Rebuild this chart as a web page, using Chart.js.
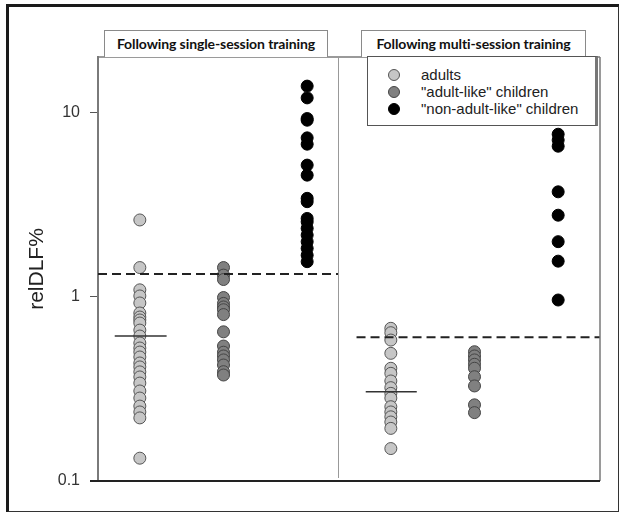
<!DOCTYPE html>
<html>
<head>
<meta charset="utf-8">
<title>relDLF%</title>
<script src="https://cdn.jsdelivr.net/npm/chart.js@4.4.1/dist/chart.umd.min.js"></script>
<style>
    body { margin: 0; background: #fff; overflow: hidden; }
    .wrap { position: relative; width: 619px; height: 512px; }
    .frame {
        position: absolute; left: 6px; top: 4px; width: 609px; height: 504px;
        border-left: 3px solid #1a1a1a; border-top: 3px solid #1a1a1a;
        border-right: 2px solid #333; border-bottom: 2px solid #333;
    }
    canvas { position: absolute; left: 0; top: 0; }
    .strip {
        position: absolute; top: 30px; height: 27px; box-sizing: border-box;
        border: 1px solid #8a8a8a; border-bottom: none; background: #fff;
        font: bold 14px Lato, "Open Sans", sans-serif; color: #111;
        line-height: 26px; text-align: center; white-space: nowrap; letter-spacing: -0.1px;
    }
    .legend {
        position: absolute; left: 367px; top: 56px; width: 231px; height: 70px;
        box-sizing: border-box; border: 1px solid #555; border-right: 3px solid #777;
        background: #fff; font: 15px "Liberation Sans", Arial, sans-serif; color: #222;
    }
    .legend .row { position: absolute; left: 0; height: 17px; line-height: 17px; white-space: nowrap; }
    .legend .dot {
        position: absolute; left: 20px; top: 3px; width: 12px; height: 12px;
        border-radius: 50%; box-sizing: border-box; border: 1px solid #444;
    }
    .legend .txt { position: absolute; left: 53px; top: 0; }
</style>
</head>
<body>
<div class="wrap">
    <div class="frame"></div>
    <canvas id="relChart" width="619" height="512"></canvas>
    <div class="strip" id="strip0" style="left:104px;width:224px;"></div>
    <div class="strip" id="strip1" style="left:361px;width:225px;"></div>
    <div class="legend" id="legend"></div>
</div>
<script>
// Panels and groups
const panels = ['Following single-session training', 'Following multi-session training'];
const groups = ['adults', '"adult-like" children', '"non-adult-like" children'];
const yTicks = [0.1, 1, 10];

// relDLF% values, single-session panel
const adultsSingle = [2.61, 1.44, 1.09, 1.01, 0.925, 0.816, 0.776, 0.748, 0.72, 0.659, 0.612, 0.561,
    0.527, 0.501, 0.471, 0.437, 0.416, 0.391, 0.367, 0.34, 0.308, 0.282, 0.255, 0.237, 0.22, 0.133];
const adultLikeSingle = [1.44, 1.31, 1.24, 0.99, 0.92, 0.88, 0.85, 0.80, 0.645, 0.54, 0.50, 0.477,
    0.454, 0.426, 0.392, 0.376];
const nonAdultLikeSingle = [13.9, 12.0, 9.27, 9.08, 7.28, 6.73, 5.18, 4.57, 3.42, 3.28, 2.66, 2.55,
    2.35, 2.16, 1.99, 1.83, 1.68, 1.55];

// relDLF% values, multi-session panel
const adultsMulti = [0.674, 0.638, 0.582, 0.493, 0.409, 0.384, 0.349, 0.321, 0.299, 0.282, 0.253,
    0.237, 0.223, 0.209, 0.193, 0.15];
const adultLikeMulti = [0.503, 0.477, 0.454, 0.43, 0.409, 0.368, 0.328, 0.259, 0.235];
const nonAdultLikeMulti = [7.62, 7.08, 6.56, 3.71, 2.77, 1.99, 1.56, 0.96];

// dashed reference level and median per panel
const refLevel = [1.33, 0.602];
const medianAdults = [0.612, 0.305];

// column positions on the x scale
const colX = [[1, 2, 3], [4, 5, 6]];
const dividerX = 3.37;

const fills = ['#c6c6c6', '#808080', '#000000'];
const edges = ['#555555', '#444444', '#000000'];

function toPoints(values, x) {
    return values.map(v => ({ x: x, y: v }));
}

document.addEventListener("DOMContentLoaded", function () {
    document.getElementById('strip0').textContent = panels[0];
    document.getElementById('strip1').textContent = panels[1];

    // Legend
    const legend = document.getElementById('legend');
    groups.forEach((g, i) => {
        const row = document.createElement('div');
        row.className = 'row';
        row.style.top = (9 + i * 17) + 'px';
        row.innerHTML = '<span class="dot" style="background:' + fills[i] + ';border-color:' + edges[i] +
            '"></span><span class="txt"></span>';
        row.querySelector('.txt').textContent = g;
        legend.appendChild(row);
    });

    const series = [adultsSingle, adultLikeSingle, nonAdultLikeSingle];
    const seriesMulti = [adultsMulti, adultLikeMulti, nonAdultLikeMulti];

    const datasets = [];
    groups.forEach((g, i) => {
        datasets.push({
            type: 'scatter',
            label: g,
            data: toPoints(series[i], colX[0][i]).concat(toPoints(seriesMulti[i], colX[1][i])),
            backgroundColor: fills[i],
            borderColor: edges[i],
            borderWidth: 1,
            pointRadius: 6,
            pointHoverRadius: 6,
            order: 2
        });
    });

    // dashed lines
    const dashRanges = [[0.5, dividerX], [3.59, 6.5]];
    dashRanges.forEach((r, i) => {
        datasets.push({
            type: 'line',
            label: 'ref' + i,
            data: [{ x: r[0], y: refLevel[i] }, { x: r[1], y: refLevel[i] }],
            borderColor: '#222',
            borderWidth: 2,
            borderDash: [9, 5],
            pointRadius: 0,
            fill: false,
            order: 1
        });
    });

    // adults median marks
    const medRanges = [[0.70, 1.32], [3.70, 4.31]];
    medRanges.forEach((r, i) => {
        datasets.push({
            type: 'line',
            label: 'median' + i,
            data: [{ x: r[0], y: medianAdults[i] }, { x: r[1], y: medianAdults[i] }],
            borderColor: '#333',
            borderWidth: 1.5,
            pointRadius: 0,
            fill: false,
            order: 0
        });
    });

    // plot box and panel divider
    const panelFrame = {
        id: 'panelFrame',
        afterDraw(chart) {
            const { ctx, chartArea: a, scales } = chart;
            ctx.save();
            ctx.strokeStyle = '#7a7a7a';
            ctx.lineWidth = 1.5;
            ctx.beginPath();
            ctx.moveTo(a.left, a.top);
            ctx.lineTo(a.right, a.top);
            ctx.moveTo(a.right, a.top);
            ctx.lineTo(a.right, a.bottom);
            ctx.stroke();

            ctx.strokeStyle = '#999';
            ctx.lineWidth = 1;
            const dx = Math.round(scales.x.getPixelForValue(dividerX)) + 0.5;
            ctx.beginPath();
            ctx.moveTo(dx, a.top);
            ctx.lineTo(dx, a.bottom - 3);
            ctx.stroke();

            ctx.strokeStyle = '#222';
            ctx.lineWidth = 2;
            ctx.beginPath();
            ctx.moveTo(a.left - 8, a.bottom);
            ctx.lineTo(a.right, a.bottom);
            ctx.stroke();
            ctx.restore();
        }
    };

    const ctx = document.getElementById('relChart').getContext('2d');
    new Chart(ctx, {
        type: 'scatter',
        data: { datasets: datasets },
        options: {
            responsive: false,
            animation: false,
            layout: { padding: { left: 0, top: 57, right: 19, bottom: 31 } },
            plugins: {
                legend: { display: false },
                tooltip: { enabled: false }
            },
            scales: {
                x: {
                    type: 'linear',
                    min: 0.5,
                    max: 6.5,
                    display: false
                },
                y: {
                    type: 'logarithmic',
                    min: 0.1,
                    max: 20,
                    afterFit(scale) { scale.width = 98; },
                    afterBuildTicks(scale) { scale.ticks = yTicks.map(v => ({ value: v })); },
                    ticks: {
                        padding: 10,
                        color: '#333',
                        font: { family: '"Liberation Sans", Arial, sans-serif', size: 16 },
                        callback: v => String(v)
                    },
                    grid: {
                        drawOnChartArea: false,
                        tickLength: 8,
                        color: '#555'
                    },
                    border: { color: '#7a7a7a', width: 2 },
                    title: {
                        display: true,
                        text: 'relDLF%',
                        color: '#222',
                        font: { family: '"Liberation Sans", Arial, sans-serif', size: 21 },
                        padding: { top: 25, bottom: 0 }
                    }
                }
            }
        },
        plugins: [panelFrame]
    });
});
</script>
</body>
</html>
